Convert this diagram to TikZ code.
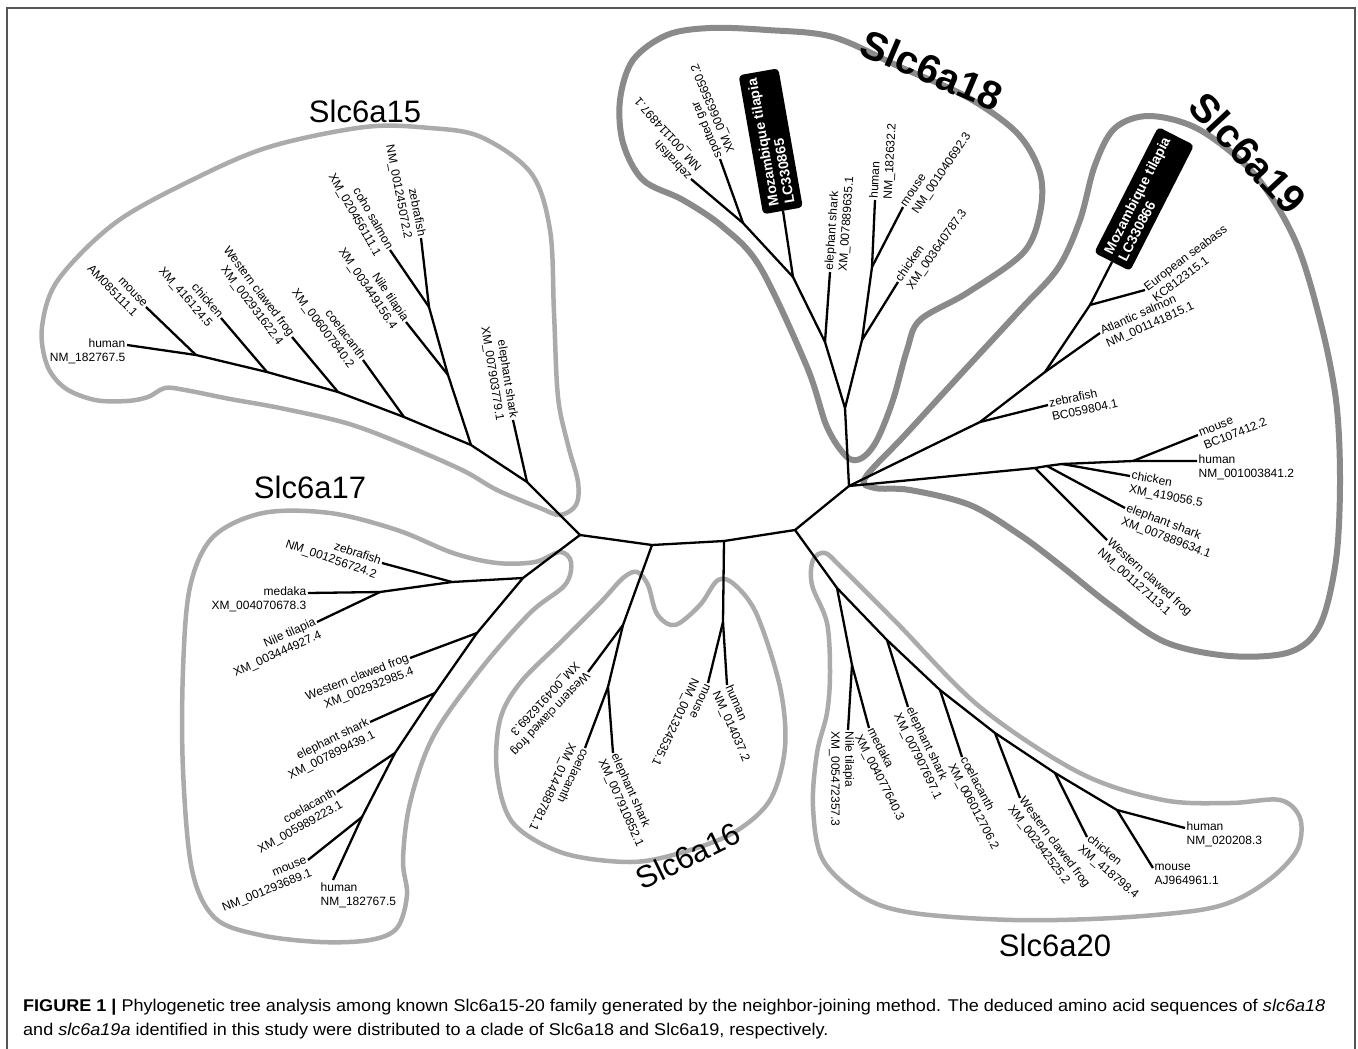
\documentclass[tikz,border=0pt]{standalone}
\usepackage{fontspec}
\setmainfont{Liberation Sans}
\usepackage{graphicx}
\definecolor{hullgray}{HTML}{ABABAB}
\definecolor{hulldark}{HTML}{8A8A8A}
\definecolor{framecol}{HTML}{555555}
\definecolor{captxt}{HTML}{333333}
\newcommand\LR[2]{\begin{tabular}[t]{@{}r@{}}#1\\#2\end{tabular}}
\newcommand\LL[2]{\begin{tabular}[t]{@{}l@{}}#1\\#2\end{tabular}}
\newsavebox\capboxA
\newsavebox\capboxB
\begin{document}
\sbox\capboxA{\fontsize{17}{20}\selectfont\textbf{FIGURE 1 |} Phylogenetic tree analysis among known Slc6a15-20 family generated by the neighbor-joining method. The deduced amino acid sequences of \textit{slc6a18}}%
\sbox\capboxB{\fontsize{17}{20}\selectfont and \textit{slc6a19a} identified in this study were distributed to a clade of Slc6a18 and Slc6a19, respectively.}%
\pgfmathsetmacro\capscale{1302pt/\wd\capboxA}%
\begin{tikzpicture}[x=1pt,y=-1pt,
  br/.style={line width=2.3pt, line join=round},
  hullL/.style={draw=hullgray, line width=4.5pt},
  hullD/.style={draw=hulldark, line width=6pt},
  lab/.style={font=\fontsize{12}{14}\selectfont, inner sep=1.5pt},
  clade/.style={font=\fontsize{31}{34}\selectfont, inner sep=0pt},
  cladeB/.style={font=\bfseries\fontsize{40}{44}\selectfont, inner sep=0pt},
  tbox/.style={fill=black, text=white, font=\bfseries\fontsize{14}{16}\selectfont, rounded corners=4pt, inner xsep=6pt, inner ysep=7pt, align=left}]
\useasboundingbox (0,0) rectangle (1358,1049);
\fill[white] (0,0) rectangle (1358,1049);
% frame
\draw[framecol, line width=1.5pt] (7,1049) -- (7,8) -- (1355,8) -- (1355,1049);

% ---------- clade outlines ----------
\draw[hullL] plot[smooth cycle, tension=0.55] coordinates {(365,127) (430,128) (481,137) (531,173) (550,230) (554,313) (558,397) (568,445) (578,482) (576,505) (560,515) (540,508) (497,490) (462,470) (400,443) (346,423) (280,408) (230,399) (185,390) (165,388) (148,397) (127,401) (95,400) (65,388) (47,365) (42,327) (58,280) (115,223) (192,180) (269,147)};
\draw[hullL] plot[smooth cycle, tension=0.55] coordinates {(213,537) (263,513) (330,513) (397,530) (453,553) (497,563) (535,562) (560,552) (571,562) (565,585) (530,613) (480,670) (433,737) (410,803) (403,860) (407,895) (397,928) (370,940) (320,942) (260,935) (215,918) (192,870) (183,770) (183,670) (190,587)};
\draw[hullL] plot[smooth cycle, tension=0.55] coordinates {(637,572) (648,585) (657,614) (675,625) (700,605) (718,580) (735,585) (757,615) (780,687) (785,747) (770,800) (733,833) (680,853) (630,862) (563,853) (513,823) (497,773) (500,720) (520,683) (563,640) (600,603) (623,578)};
\draw[hullL] plot[smooth cycle, tension=0.55] coordinates {(813,560) (825,553) (842,568) (897,623) (980,707) (1080,773) (1163,800) (1230,803) (1280,800) (1300,818) (1298,848) (1275,875) (1240,898) (1200,910) (1113,918) (1013,920) (913,913) (863,897) (823,860) (813,807) (817,753) (827,713) (830,673) (827,623) (812,585)};
\draw[hullD] plot[smooth cycle, tension=0.55] coordinates {(847,457) (827,427) (807,367) (760,267) (723,227) (683,200) (643,180) (623,143) (620,100) (633,60) (667,35) (710,28) (767,30) (833,37) (900,67) (967,97) (1017,133) (1040,173) (1040,213) (1023,253) (967,293) (920,320) (907,350) (893,400) (877,440) (862,458)};
\draw[hullD] plot[smooth cycle, tension=0.55] coordinates {(865,478) (905,435) (960,375) (1020,310) (1058,268) (1080,220) (1095,165) (1115,128) (1150,116) (1200,130) (1255,175) (1295,240) (1320,320) (1336,400) (1340,480) (1336,560) (1320,625) (1290,652) (1230,656) (1165,642) (1110,605) (1060,565) (1020,535) (970,505) (910,490) (875,488)};

% ---------- coordinates ----------
\coordinate (A) at (580,535);
\coordinate (B) at (652,545);
\coordinate (C) at (724,541);
\coordinate (D) at (795,530);
\coordinate (E) at (849,486);
% Slc6a15
\coordinate (n15a) at (527,482); \coordinate (n15b) at (471,445);
\coordinate (n15c) at (448,375); \coordinate (n15d) at (429,307);
\coordinate (n15e) at (404,417); \coordinate (n15f) at (338,392);
\coordinate (n15g) at (267,372); \coordinate (n15h) at (196,355);
\coordinate (t15shark) at (513,420); \coordinate (t15nile) at (406,322);
\coordinate (t15coho) at (390,250); \coordinate (t15zeb) at (421,238);
\coordinate (t15coel) at (363,360); \coordinate (t15frog) at (292,337);
\coordinate (t15chick) at (221,318); \coordinate (t15mouse) at (146,307);
\coordinate (t15human) at (127,345);
% Slc6a17
\coordinate (n17a) at (523,578); \coordinate (n17b) at (452,582);
\coordinate (n17c) at (380,592); \coordinate (n17d) at (477,633);
\coordinate (n17e) at (435,693); \coordinate (n17f) at (395,753);
\coordinate (n17g) at (362,817);
\coordinate (t17zeb) at (382,563); \coordinate (t17med) at (308,593);
\coordinate (t17nile) at (317,622); \coordinate (t17frog) at (410,658);
\coordinate (t17shark) at (370,722); \coordinate (t17coel) at (337,792);
\coordinate (t17mouse) at (308,860); \coordinate (t17human) at (333,880);
% Slc6a16
\coordinate (n16a) at (623,625); \coordinate (n16b) at (608,687);
\coordinate (n16c) at (723,622);
\coordinate (t16frog) at (588,672); \coordinate (t16coel) at (585,748);
\coordinate (t16shark) at (613,753); \coordinate (t16mouse) at (708,683);
\coordinate (t16human) at (727,685);
% Slc6a20
\coordinate (n20a) at (837,588); \coordinate (n20b) at (852,665);
\coordinate (n20c) at (887,640); \coordinate (n20d) at (940,690);
\coordinate (n20e) at (995,733); \coordinate (n20f) at (1055,773);
\coordinate (n20g) at (1117,810);
\coordinate (t20nile) at (848,730); \coordinate (t20med) at (869,728);
\coordinate (t20shark) at (908,707); \coordinate (t20coel) at (962,757);
\coordinate (t20frog) at (1020,798); \coordinate (t20chick) at (1087,837);
\coordinate (t20human) at (1185,828); \coordinate (t20mouse) at (1153,868);
% Slc6a18
\coordinate (n18a) at (845,408); \coordinate (n18b) at (825,342);
\coordinate (n18c) at (793,277); \coordinate (n18d) at (743,223);
\coordinate (n18f) at (862,340); \coordinate (n18g) at (872,267);
\coordinate (t18zeb) at (691,179); \coordinate (t18gar) at (720,159);
\coordinate (t18til) at (783,211); \coordinate (t18shark) at (830,272);
\coordinate (t18human) at (875,200); \coordinate (t18mouse) at (903,207);
\coordinate (t18chick) at (898,282);
% Slc6a19
\coordinate (n19a) at (980,422); \coordinate (n19b) at (1045,372);
\coordinate (n19c) at (1090,305); \coordinate (n19e) at (1035,468);
\coordinate (n19f) at (1047,466); \coordinate (n19g) at (1062,464);
\coordinate (n19h) at (1133,461);
\coordinate (t19zeb) at (1048,405); \coordinate (t19salm) at (1100,333);
\coordinate (t19til) at (1112,262); \coordinate (t19bass) at (1145,290);
\coordinate (t19frog) at (1107,540); \coordinate (t19shark) at (1125,508);
\coordinate (t19chick) at (1130,476); \coordinate (t19human) at (1197,461);
\coordinate (t19mouse) at (1198,435);

% ---------- tilapia boxes ----------
\node[tbox, anchor=west, rotate=100] (til18) at (t18til) {Mozambique tilapia\\LC330865};
\node[tbox, anchor=west, rotate=63] (til19) at (t19til) {Mozambique tilapia\\LC330866};

% ---------- branches ----------
\draw[br] (A) -- (B) -- (C) -- (D) -- (E);
% 15
\draw[br] (A) -- (n15a) -- (n15b) -- (n15e) -- (n15f) -- (n15g) -- (n15h) -- (t15human);
\draw[br] (n15a) -- (t15shark);
\draw[br] (n15b) -- (n15c) -- (n15d) -- (t15zeb);
\draw[br] (n15c) -- (t15nile);
\draw[br] (n15d) -- (t15coho);
\draw[br] (n15e) -- (t15coel);
\draw[br] (n15f) -- (t15frog);
\draw[br] (n15g) -- (t15chick);
\draw[br] (n15h) -- (t15mouse);
% 17
\draw[br] (A) -- (n17a) -- (n17d) -- (n17e) -- (n17f) -- (n17g) -- (t17human);
\draw[br] (n17a) -- (n17b) -- (n17c) -- (t17med);
\draw[br] (n17b) -- (t17zeb);
\draw[br] (n17c) -- (t17nile);
\draw[br] (n17d) -- (t17frog);
\draw[br] (n17e) -- (t17shark);
\draw[br] (n17f) -- (t17coel);
\draw[br] (n17g) -- (t17mouse);
% 16
\draw[br] (B) -- (n16a) -- (n16b) -- (t16shark);
\draw[br] (n16a) -- (t16frog);
\draw[br] (n16b) -- (t16coel);
\draw[br] (C) -- (n16c) -- (t16human);
\draw[br] (n16c) -- (t16mouse);
% 20
\draw[br] (D) -- (n20a) -- (n20c) -- (n20d) -- (n20e) -- (n20f) -- (n20g) -- (t20human);
\draw[br] (n20a) -- (n20b) -- (t20nile);
\draw[br] (n20b) -- (t20med);
\draw[br] (n20c) -- (t20shark);
\draw[br] (n20d) -- (t20coel);
\draw[br] (n20e) -- (t20frog);
\draw[br] (n20f) -- (t20chick);
\draw[br] (n20g) -- (t20mouse);
% 18
\draw[br] (E) -- (n18a) -- (n18b) -- (n18c) -- (n18d) -- (t18zeb);
\draw[br] (n18d) -- (t18gar);
\draw[br] (n18c) -- (til18.west);
\draw[br] (n18b) -- (t18shark);
\draw[br] (n18a) -- (n18f) -- (n18g) -- (t18human);
\draw[br] (n18g) -- (t18mouse);
\draw[br] (n18f) -- (t18chick);
% 19
\draw[br] (E) -- (n19a) -- (n19b) -- (n19c) -- (t19bass);
\draw[br] (n19a) -- (t19zeb);
\draw[br] (n19b) -- (t19salm);
\draw[br] (n19c) -- (til19.west);
\draw[br] (E) -- (n19e) -- (n19f) -- (n19g) -- (n19h) -- (t19human);
\draw[br] (n19e) -- (t19frog);
\draw[br] (n19f) -- (t19shark);
\draw[br] (n19g) -- (t19chick);
\draw[br] (n19h) -- (t19mouse);

% ---------- leaf labels ----------
% 15
\node[lab, anchor=mid east] (l15human) at (t15human) {\LR{human}{NM\_182767.5}};
\node[lab, anchor=mid east, rotate=-46] (l15mouse) at (t15mouse) {\LR{mouse}{AM085111.1}};
\node[lab, anchor=mid east, rotate=-49] (l15chick) at (t15chick) {\LR{chicken}{XM\_416124.5}};
\node[lab, anchor=mid east, rotate=-53] (l15frog) at (t15frog) {\LR{Western clawed frog}{XM\_002931622.4}};
\node[lab, anchor=mid east, rotate=-53] (l15coel) at (t15coel) {\LR{coelacanth}{XM\_006007840.2}};
\node[lab, anchor=mid east, rotate=-56] (l15nile) at (t15nile) {\LR{Nile tilapia}{XM\_003449156.4}};
\node[lab, anchor=mid east, rotate=-60] (l15coho) at (t15coho) {\LR{coho salmon}{XM\_020456111.1}};
\node[lab, anchor=mid east, rotate=-79] (l15zeb) at (t15zeb) {\LR{zebrafish}{NM\_001245072.2}};
\node[lab, anchor=mid east, rotate=-81] (l15shark) at (t15shark) {\LR{elephant shark}{XM\_007903779.1}};
% 17
\node[lab, anchor=mid east, rotate=-19] (l17zeb) at (t17zeb) {\LR{zebrafish}{NM\_001256724.2}};
\node[lab, anchor=mid east] (l17med) at (t17med) {\LR{medaka}{XM\_004070678.3}};
\node[lab, anchor=mid east, rotate=24] (l17nile) at (t17nile) {\LR{Nile tilapia}{XM\_003444927.4}};
\node[lab, anchor=mid east, rotate=21] (l17frog) at (t17frog) {\LR{Western clawed frog}{XM\_002932985.4}};
\node[lab, anchor=mid east, rotate=26] (l17shark) at (t17shark) {\LR{elephant shark}{XM\_007899439.1}};
\node[lab, anchor=mid east, rotate=29] (l17coel) at (t17coel) {\LR{coelacanth}{XM\_005989223.1}};
\node[lab, anchor=mid east, rotate=22] (l17mouse) at (t17mouse) {\LR{mouse}{NM\_001293689.1}};
\node[lab, anchor=north west, xshift=-14pt] (l17human) at (t17human) {\LL{human}{NM\_182767.5}};
% 16
\node[lab, anchor=mid west, rotate=-133] (l16frog) at (t16frog) {\LL{Western clawed frog}{XM\_004916269.3}};
\node[lab, anchor=mid west, rotate=-115] (l16coel) at (t16coel) {\LL{coelacanth}{XM\_014488781.1}};
\node[lab, anchor=mid west, rotate=-66] (l16shark) at (t16shark) {\LL{elephant shark}{XM\_007910852.1}};
\node[lab, anchor=mid west, rotate=-115] (l16mouse) at (t16mouse) {\LL{mouse}{NM\_001324535.1}};
\node[lab, anchor=mid west, rotate=-66] (l16human) at (t16human) {\LL{human}{NM\_014037.2}};
% 20
\node[lab, anchor=mid west, rotate=-90] (l20nile) at (t20nile) {\LL{Nile tilapia}{XM\_005472357.3}};
\node[lab, anchor=mid west, rotate=-63] (l20med) at (t20med) {\LL{medaka}{XM\_004077640.3}};
\node[lab, anchor=mid west, rotate=-64] (l20shark) at (t20shark) {\LL{elephant shark}{XM\_007907697.1}};
\node[lab, anchor=mid west, rotate=-62] (l20coel) at (t20coel) {\LL{coelacanth}{XM\_006012706.2}};
\node[lab, anchor=mid west, rotate=-53] (l20frog) at (t20frog) {\LL{Western clawed frog}{XM\_002942525.2}};
\node[lab, anchor=mid west, rotate=-40] (l20chick) at (t20chick) {\LL{chicken}{XM\_418798.4}};
\node[lab, anchor=mid west] (l20human) at (t20human) {\LL{human}{NM\_020208.3}};
\node[lab, anchor=mid west] (l20mouse) at (t20mouse) {\LL{mouse}{AJ964961.1}};
% 18
\node[lab, anchor=mid west, rotate=132] (l18zeb) at (t18zeb) {\LL{zebrafish}{NM\_001114897.1}};
\node[lab, anchor=mid west, rotate=113] (l18gar) at (t18gar) {\LL{spotted gar}{XM\_006635650.2}};
\node[lab, anchor=mid west, rotate=86] (l18shark) at (t18shark) {\LL{elephant shark}{XM\_007889635.1}};
\node[lab, anchor=mid west, rotate=87] (l18human) at (t18human) {\LL{human}{NM\_182632.2}};
\node[lab, anchor=mid west, rotate=56] (l18mouse) at (t18mouse) {\LL{mouse}{NM\_001040692.3}};
\node[lab, anchor=mid west, rotate=55] (l18chick) at (t18chick) {\LL{chicken}{XM\_003640787.3}};
% 19
\node[lab, anchor=mid west, rotate=12] (l19zeb) at (t19zeb) {\LL{zebrafish}{BC059804.1}};
\node[lab, anchor=mid west, rotate=24] (l19salm) at (t19salm) {\LL{Atlantic salmon}{NM\_001141815.1}};
\node[lab, anchor=mid west, rotate=37] (l19bass) at (t19bass) {\LL{European seabass}{KC812315.1}};
\node[lab, anchor=mid west, rotate=22] (l19mouse) at (t19mouse) {\LL{mouse}{BC107412.2}};
\node[lab, anchor=mid west] (l19human) at (t19human) {\LL{human}{NM\_001003841.2}};
\node[lab, anchor=mid west, rotate=-11] (l19chick) at (t19chick) {\LL{chicken}{XM\_419056.5}};
\node[lab, anchor=mid west, rotate=-21] (l19shark) at (t19shark) {\LL{elephant shark}{XM\_007889634.1}};
\node[lab, anchor=mid west, rotate=-42] (l19frog) at (t19frog) {\LL{Western clawed frog}{NM\_001127113.1}};

% ---------- clade names ----------
\node[clade] (c15) at (365,111) {Slc6a15};
\node[clade] (c17) at (310,487) {Slc6a17};
\node[clade, rotate=26] (c16) at (688,856) {Slc6a16};
\node[clade] (c20) at (1055,945) {Slc6a20};
\node[cladeB, rotate=-23] (c18) at (932,70) {Slc6a18};
\node[cladeB, rotate=-47] (c19) at (1248,153) {Slc6a19};

% ---------- caption ----------
\node[anchor=base west, inner sep=0pt, text=captxt] (cap1) at (23,1011) {\scalebox{\capscale}[1]{\usebox\capboxA}};
\node[anchor=base west, inner sep=0pt, text=captxt] (cap2) at (23,1035) {\scalebox{\capscale}[1]{\usebox\capboxB}};
\end{tikzpicture}
\end{document}
